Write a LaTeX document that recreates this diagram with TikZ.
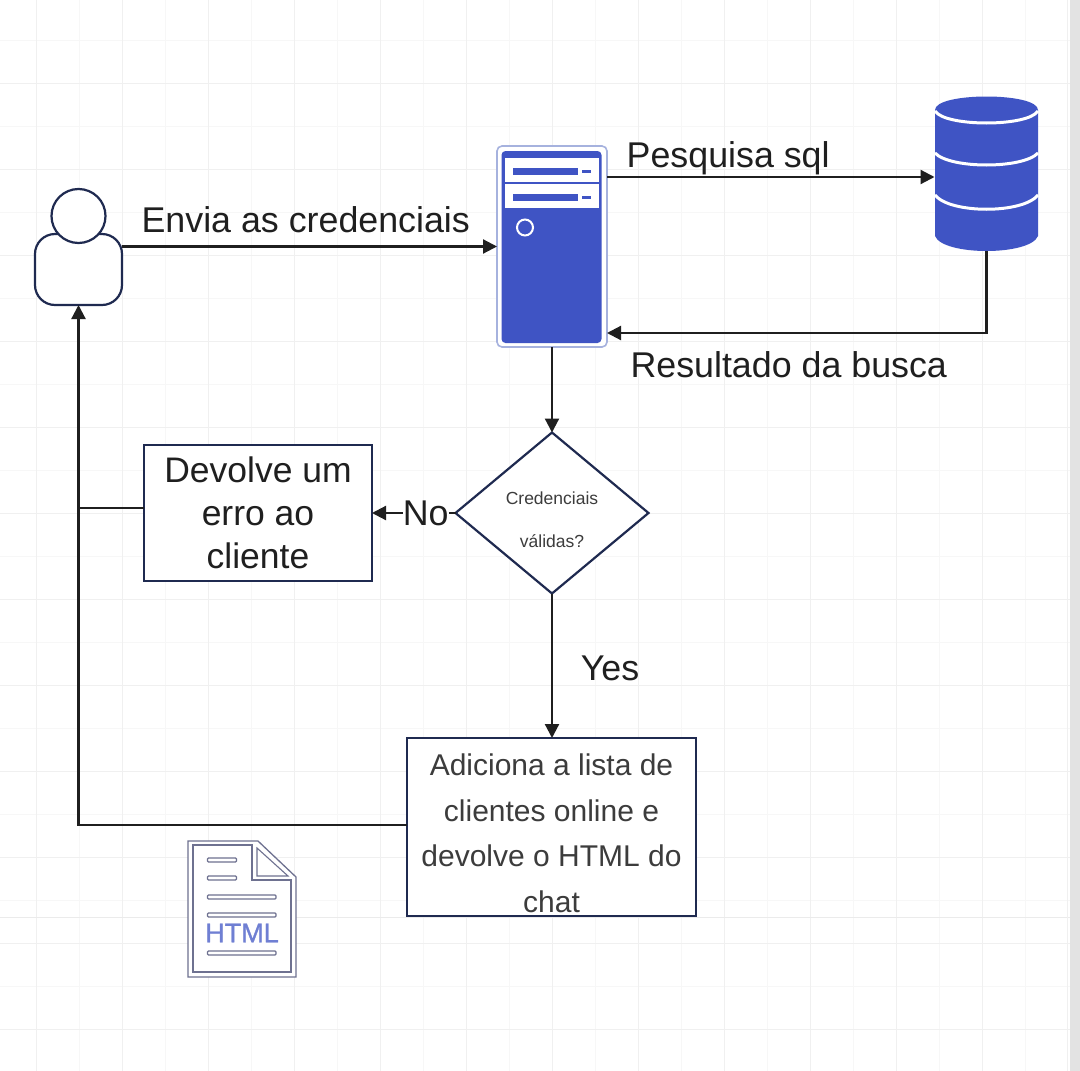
\documentclass[tikz,border=0pt]{standalone}
\usepackage{fontspec}
\setmainfont{Liberation Sans}
\usepackage{tikz}
\usetikzlibrary{shapes,arrows.meta}
\definecolor{navy}{HTML}{1F2A50}
\definecolor{ink}{HTML}{1F1F1F}
\definecolor{softink}{HTML}{3C3C3C}
\definecolor{srvblue}{HTML}{3F54C4}
\definecolor{srvedge}{HTML}{A6B2DE}
\definecolor{docedge}{HTML}{6E7190}
\tikzstyle{link} = [draw=ink, line width=2.2pt, -{Triangle[length=14pt,width=14pt]}]
\tikzstyle{wire} = [draw=ink, line width=2.2pt]
\tikzstyle{lbl} = [text=ink, inner sep=0pt, font=\fontsize{35.8}{43}\selectfont]
\tikzstyle{box} = [rectangle, draw=navy, line width=2.2pt, fill=white, outer sep=0pt,
    align=center, text=ink, font=\fontsize{35.5}{43}\selectfont]
\tikzstyle{decision} = [diamond, draw=navy, line width=2.2pt, fill=white, outer sep=0pt,
    inner sep=0pt, aspect=1.2, minimum width=193pt, minimum height=161pt, align=center,
    text=softink, font=\fontsize{17.5}{43}\selectfont]
\tikzstyle{person} = [rectangle, rounded corners=20pt, draw=navy, line width=2.2pt, fill=white,
    outer sep=0pt, minimum width=87pt, minimum height=71pt]
\tikzstyle{slot} = [fill=white]
\tikzstyle{docline} = [draw=docedge, line width=1.2pt, fill=white]

\begin{document}
\begin{tikzpicture}[x=1pt, y=-1pt]
    \useasboundingbox (0,0) rectangle (1080,1071);
    % Sheet
    \fill[white] (0,0) rectangle (1080,1071);
    \foreach \x in {36,79,...,1067} \draw[black!3, line width=.8pt] (\x,0) -- (\x,1071);
    \foreach \y in {40,83,...,1070} \draw[black!3, line width=.8pt] (0,\y) -- (1070,\y);
    \foreach \x in {36,122,...,1067} \draw[black!6, line width=1pt] (\x,0) -- (\x,1071);
    \foreach \y in {83,169,...,1070} \draw[black!6, line width=1pt] (0,\y) -- (1070,\y);
    \draw[black!8, line width=1pt] (0,917) -- (1070,917);
    \draw[black!6, line width=1pt] (1067,0) -- (1067,1071);
    \fill[black!11] (1070,0) rectangle (1080,1071);

    % Place nodes
    % Icons
    \node [person] (Usr) at (78.5,269.5) {};
    \node [circle, draw=navy, line width=2.2pt, fill=white, minimum size=54pt, outer sep=0pt] (UsrHead) at (78.5,216) {};
    \node [rectangle, rounded corners=5pt, draw=srvedge, line width=1.6pt, fill=white, outer sep=0pt,
        minimum width=110pt, minimum height=201pt] (Srv) at (552,246.5) {};
    \node [rectangle, minimum width=104pt, minimum height=154pt, outer sep=0pt] (Db) at (986.5,174) {};

    % Flow
    \node [decision] (Dec) at (552,513) {\rule{0pt}{27pt}Credenciais\\válidas?};
    \node [box, minimum width=228pt, minimum height=136pt, inner sep=0pt] (Err) at (258,513) {Devolve um\\erro ao\\cliente};
    \node [box, minimum width=289pt, minimum height=178pt, inner sep=0pt, text=softink,
        font=\fontsize{30}{45.5}\selectfont] (Add) at (551.5,827) {\rule{0pt}{34pt}Adiciona a lista de\\clientes online e\\devolve o HTML do\\chat};
    \coordinate (Jn) at (79,508);

    % Server
    \fill[srvblue, rounded corners=4pt] (501.5,151) rectangle (601.5,343);
    \foreach \y in {158,184} {
        \fill[slot] (505,\y) rectangle (599,\y+23.5);
        \fill[srvblue] (512.5,\y+10) rectangle (577.5,\y+17);
        \fill[srvblue] (582,\y+12) rectangle (590.5,\y+15);
    }
    \draw[white, line width=2pt] (525,227.5) circle (8pt);

    % Database
    \fill[srvblue] (935,110) .. controls (935,92) and (1038,92) .. (1038,110) -- (1038,236)
        .. controls (1030,256) and (943,256) .. (935,236) -- cycle;
    \draw[white, line width=3pt] (935,111) .. controls (945,127) and (1028,127) .. (1038,111);
    \draw[white, line width=3pt] (935,153) .. controls (950,169) and (1023,169) .. (1038,153);
    \draw[white, line width=3pt] (935,195) .. controls (950,214) and (1023,214) .. (1038,195);

    % Document
    \draw[docedge, line width=1.3pt, fill=white] (188,841) -- (258,841) -- (296,877) -- (296,977) -- (188,977) -- cycle;
    \draw[docedge, line width=1.1pt] (193,845) -- (252,845) -- (252,880) -- (291,880) -- (291,972) -- (193,972) -- cycle;
    \draw[docedge, line width=1.1pt] (257,848) -- (257,876) -- (288,876) -- cycle;
    \foreach \y in {858,876} \draw[docline, rounded corners=1pt] (207.5,\y) rectangle (236.5,\y+4);
    \foreach \y in {895,913,951} \draw[docline, rounded corners=1pt] (207.5,\y) rectangle (276,\y+4);
    \node [text=srvblue!75!white, inner sep=0pt, font=\addfontfeature{FakeBold=1.2}\fontsize{27}{30}\selectfont] (Html) at (242,933) {HTML};

    % Draw edges
    \draw [link] (Usr.east |- Srv.west) -- node[lbl, pos=.49, yshift=27pt] {Envia as credenciais} (Srv.west);
    \draw [link] ([yshift=69.5pt]Srv.east) -- node[lbl, pos=.37, yshift=22pt, yshift=-3pt] {Pesquisa sql} ([yshift=-3pt]Db.west);
    \draw [link] (Db.south) |- node[lbl, pos=.75, yshift=-32pt, xshift=-8pt] {Resultado da busca} ([yshift=-86.5pt]Srv.east);
    \draw [link] (Srv.south) -- (Dec.north);
    \draw [link] (Dec.west) -- node[lbl, fill=white, pos=.5, xshift=12pt] {No} (Err.east);
    \draw [link] (Dec.south) -- node[lbl, pos=.52, xshift=58pt] {Yes} (Dec.south |- Add.north);
    \draw [wire] (Jn -| Err.west) -- (Jn);
    \draw [link] ([yshift=2pt]Add.west) -| (Usr.south);

\end{tikzpicture}
\end{document}
